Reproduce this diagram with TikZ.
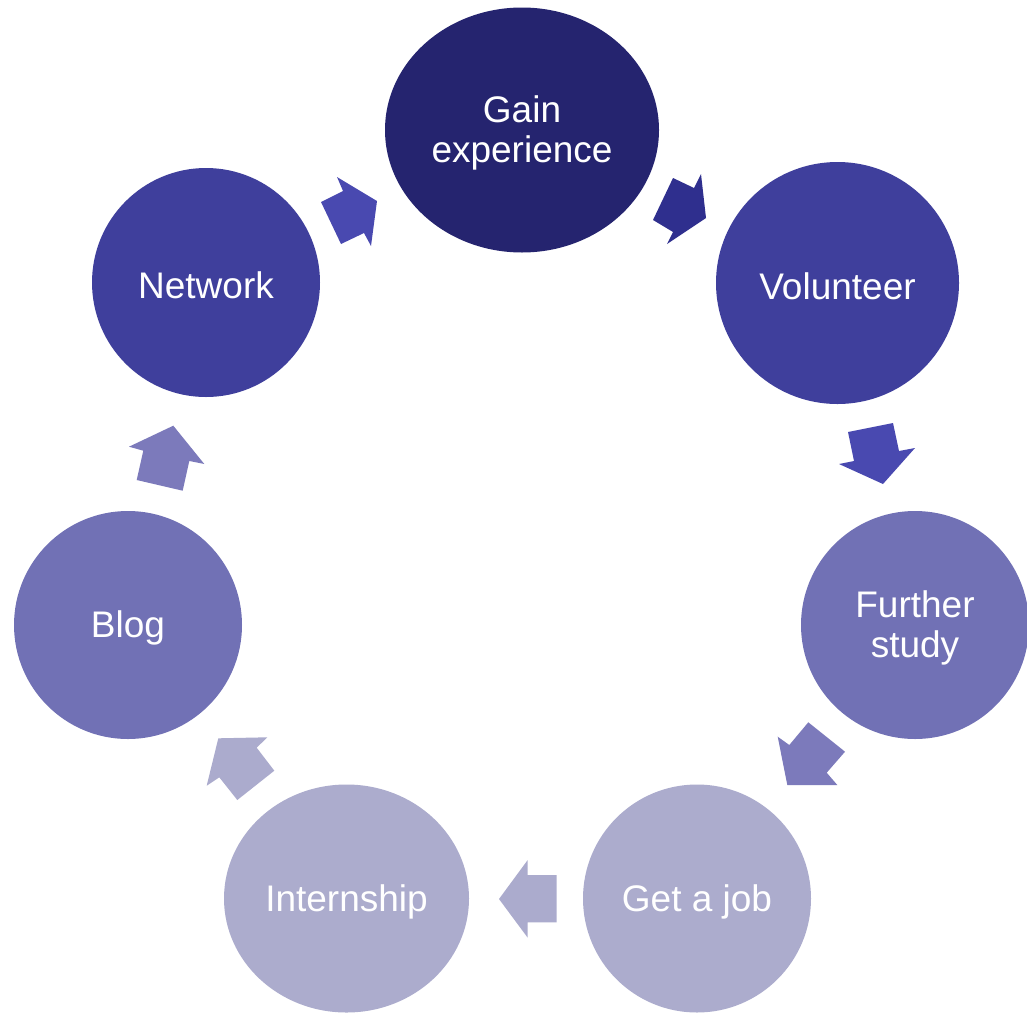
\documentclass[tikz,border=0pt]{standalone}
\usepackage{fontspec}
\setmainfont{Liberation Sans}
\usetikzlibrary{shapes.geometric}
\definecolor{cgain}{HTML}{25246F}
\definecolor{cvol}{HTML}{3F3F9C}
\definecolor{cfur}{HTML}{7171B5}
\definecolor{cjob}{HTML}{ACACCD}
\definecolor{aone}{HTML}{2F2F8E}
\definecolor{atwo}{HTML}{4949B0}
\definecolor{athree}{HTML}{7C7ABB}
\definecolor{afour}{HTML}{ABABCD}
\tikzset{
  bubble/.style={ellipse, inner sep=0pt, text=white, align=center,
    font=\fontsize{37}{40}\selectfont},
  bubbletext/.style={text=white, align=center, inner sep=0pt,
    font=\fontsize{37}{40}\selectfont, yshift=-3pt}
}
\begin{document}
\begin{tikzpicture}[x=1pt,y=-1pt]
\clip (0,0) rectangle (1027,1012);
\fill[white] (0,0) rectangle (1027,1012);
% nodes
\node[bubble, fill=cgain, minimum width=274pt, minimum height=245pt] (gain) at (522,130) {};
\node[bubble, fill=cvol, minimum width=243pt, minimum height=242pt] (vol) at (837.5,283) {};
\node[bubble, fill=cfur, minimum width=228pt, minimum height=228pt] (fur) at (915,625) {};
\node[bubble, fill=cjob, minimum width=228pt, minimum height=228pt] (job) at (697,898.5) {};
\node[bubble, fill=cjob, minimum width=245pt, minimum height=228pt] (intern) at (346.5,898.5) {};
\node[bubble, fill=cfur, minimum width=228pt, minimum height=228pt] (blog) at (128,625) {};
\node[bubble, fill=cvol, minimum width=228pt, minimum height=229pt] (net) at (206,282.5) {};
% labels
\node[bubbletext] (gainlbl) at (gain.center) {Gain\\experience};
\node[bubbletext] (vollbl) at (vol.center) {Volunteer};
\node[bubbletext] (furlbl) at (fur.center) {Further\\study};
\node[bubbletext] (joblbl) at (job.center) {Get a job};
\node[bubbletext] (internlbl) at (intern.center) {Internship};
\node[bubbletext] (bloglbl) at (blog.center) {Blog};
\node[bubbletext] (netlbl) at (net.center) {Network};
% block arrows
\fill[aone] (653,220) -- (673,178) -- (694,188) -- (701,174) -- (706,218) -- (667,244) -- (673,232) -- cycle;
\fill[atwo] (321,202) -- (343,191) -- (337,177) -- (377,201) -- (371,246) -- (364,233) -- (341,244) -- cycle;
\fill[atwo] (848,432) -- (893,423) -- (899,451) -- (915,448) -- (883,484) -- (839,464) -- (854,461) -- cycle;
\fill[athree] (808.3,722.3) -- (845,751.7) -- (826.7,772.7) -- (837.3,785) -- (787.3,785) -- (777.7,736.7) -- (789.3,745) -- cycle;
\fill[afour] (499,899) -- (527.7,860) -- (527.7,875) -- (556.7,875) -- (556.7,922.3) -- (527.7,922.3) -- (527.7,937.7) -- cycle;
\fill[afour] (206.7,785.7) -- (219.3,777.3) -- (237.3,800) -- (274.3,770.7) -- (256.7,747.7) -- (267.3,737.3) -- (218.3,738.3) -- cycle;
\fill[athree] (136.7,480) -- (182.7,490.7) -- (189.3,461) -- (204.3,464) -- (173.3,425.7) -- (129,446.7) -- (143.3,450.7) -- cycle;
\end{tikzpicture}
\end{document}
